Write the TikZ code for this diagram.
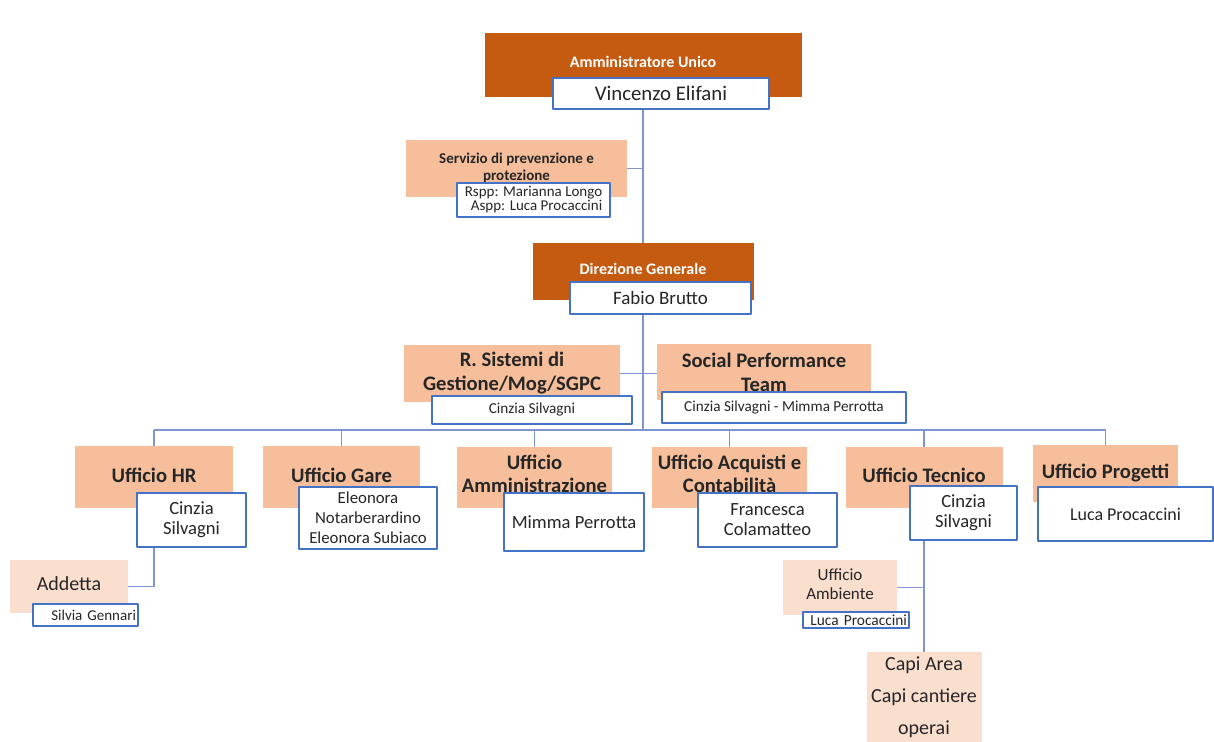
\documentclass[tikz,border=0pt]{standalone}
\usepackage{fontspec}
\setmainfont{Carlito}
\usepackage{tikz}
\usetikzlibrary{backgrounds}
\definecolor{dorange}{HTML}{C55A11}
\definecolor{forange}{HTML}{F6BE9A}
\definecolor{lorange}{HTML}{FBDFCE}
\definecolor{dblue}{HTML}{4472C4}
\definecolor{lblue}{HTML}{7F95D1}
\definecolor{tgray}{HTML}{262626}

\begin{document}
\begin{tikzpicture}[x=.5pt, y=-.5pt, line join=bevel,
  dbox/.style={fill=dorange, text=white, inner sep=0pt, text depth=3pt, font=\bfseries\fontsize{8}{9}\selectfont},
  obox/.style={fill=forange, text=tgray, inner sep=0pt, align=center, font=\bfseries\fontsize{10.3}{11.5}\selectfont},
  lbox/.style={fill=lorange, text=tgray, inner sep=0pt, align=center, font=\fontsize{10}{11}\selectfont},
  pbox/.style={draw=dblue, fill=white, line width=.8pt, inner sep=0pt, align=center, text=tgray, font=\fontsize{9.3}{10}\selectfont},
  conn/.style={lblue, line width=.8pt}]

\useasboundingbox (0,0) rectangle (1214,742);

% vertici
\node[dbox, minimum width=158.5pt, minimum height=32pt] (au) at (643,65) {Amministratore Unico};
\node[pbox, font=\fontsize{10.4}{12}\selectfont, minimum width=108pt, minimum height=15.5pt] (ve) at (661,93.5) {Vincenzo Elifani};

\node[obox, font=\bfseries\fontsize{7.5}{8.3}\selectfont, text depth=2pt, minimum width=110.5pt, minimum height=28.5pt] (spp) at (516.5,168.5) {Servizio di prevenzione e\\protezione};
\node[pbox, font=\fontsize{7.5}{7}\selectfont, align=right, minimum width=76.5pt, minimum height=17pt] (rspp) at (533.5,200) {Rspp: Marianna Longo\\Aspp: Luca Procaccini};

\node[dbox, minimum width=110.5pt, minimum height=28.5pt] (dg) at (643,271.5) {Direzione Generale};
\node[pbox, font=\fontsize{9.5}{10}\selectfont, minimum width=90.5pt, minimum height=16pt] (fb) at (660.5,298) {Fabio Brutto};

% staff
\node[obox, font=\bfseries\fontsize{10.3}{12}\selectfont, minimum width=108pt, minimum height=28.5pt] (rs) at (512,373.5) {R. Sistemi di\\Gestione/Mog/SGPC};
\node[pbox, font=\fontsize{7.6}{8}\selectfont, minimum width=100pt, minimum height=14pt] (rsp) at (532,410) {Cinzia Silvagni};
\node[obox, font=\bfseries\fontsize{10.3}{12}\selectfont, minimum width=107pt, minimum height=28pt] (sp) at (764,372) {Social Performance\\Team};
\node[pbox, font=\fontsize{7.6}{8}\selectfont, minimum width=122pt, minimum height=15.5pt] (spt) at (784,407.5) {Cinzia Silvagni - Mimma Perrotta};

% uffici
\node[obox, text depth=2pt, minimum width=79pt, minimum height=31pt] (hr) at (154,477) {Ufficio HR};
\node[pbox, minimum width=54.5pt, minimum height=27pt] (hrp) at (191.5,520) {Cinzia\\Silvagni};
\node[obox, text depth=2pt, minimum width=78.5pt, minimum height=31pt] (ga) at (341.5,477) {Ufficio Gare};
\node[pbox, font=\fontsize{8.4}{10}\selectfont, minimum width=69pt, minimum height=31pt] (gap) at (368,518) {Eleonora\\Notarberardino\\Eleonora Subiaco};
\node[obox, text depth=3.5pt, minimum width=77.5pt, minimum height=30.5pt] (am) at (534.5,477.5) {Ufficio\\Amministrazione};
\node[pbox, minimum width=70pt, minimum height=29pt] (amp) at (574,522) {Mimma Perrotta};
\node[obox, text depth=3.5pt, minimum width=77.5pt, minimum height=30.5pt] (ac) at (729.5,477.5) {Ufficio Acquisti e\\Contabilità};
\node[pbox, minimum width=69.5pt, minimum height=27pt] (acp) at (767.5,520) {Francesca\\Colamatteo};
\node[obox, text depth=2pt, minimum width=78.5pt, minimum height=30.5pt] (te) at (924,477.5) {Ufficio Tecnico};
\node[pbox, minimum width=53.5pt, minimum height=27pt] (tep) at (963.5,513) {Cinzia\\Silvagni};
\node[obox, minimum width=72.5pt, minimum height=28.5pt] (pr) at (1105.5,473.5) {Ufficio Progetti};
\node[pbox, font=\fontsize{9}{10}\selectfont, minimum width=87.5pt, minimum height=27pt] (prp) at (1125.5,514) {Luca Procaccini};

% sotto-livelli
\node[lbox, text depth=3pt, minimum width=59pt, minimum height=26.5pt] (ad) at (69,586.5) {Addetta};
\node[pbox, font=\fontsize{7.5}{8}\selectfont, minimum width=52.5pt, minimum height=11pt, text width=50.5pt, align=right] (adp) at (85.5,615) {Silvia Gennari};
\node[lbox, font=\fontsize{8.5}{9.5}\selectfont, text depth=3pt, minimum width=57pt, minimum height=27.5pt] (ua) at (840,587.5) {Ufficio\\Ambiente};
\node[pbox, font=\fontsize{7.7}{8}\selectfont, minimum width=53pt, minimum height=8pt, text width=51pt, align=right] (uap) at (856,620) {Luca Procaccini};
\node[lbox, font=\fontsize{10}{16}\selectfont, minimum width=57.5pt, minimum height=45pt] (ca) at (924,697) {Capi Area\\Capi cantiere\\operai};

\begin{scope}[on background layer]
\coordinate (bus) at (643,430);
\draw[conn] (au.center) -- (dg.center);
\draw[conn] (spp.east) -- (spp.east -| au.center);
\draw[conn] (dg.center) -- (bus);
\draw[conn] (rs.east) -- (rs.east -| sp.west);
\draw[conn] (hr.north |- bus) -- (pr.north |- bus);
\foreach \n in {hr,ga,am,ac,te,pr}
  \draw[conn] (\n.north |- bus) -- (\n.north);
\draw[conn] (hr.center) |- (ad.east);
\draw[conn] (te.center) -- (te.center |- ca.north);
\draw[conn] (ua.east) -- (ua.east -| te.center);
\end{scope}

\end{tikzpicture}
\end{document}
